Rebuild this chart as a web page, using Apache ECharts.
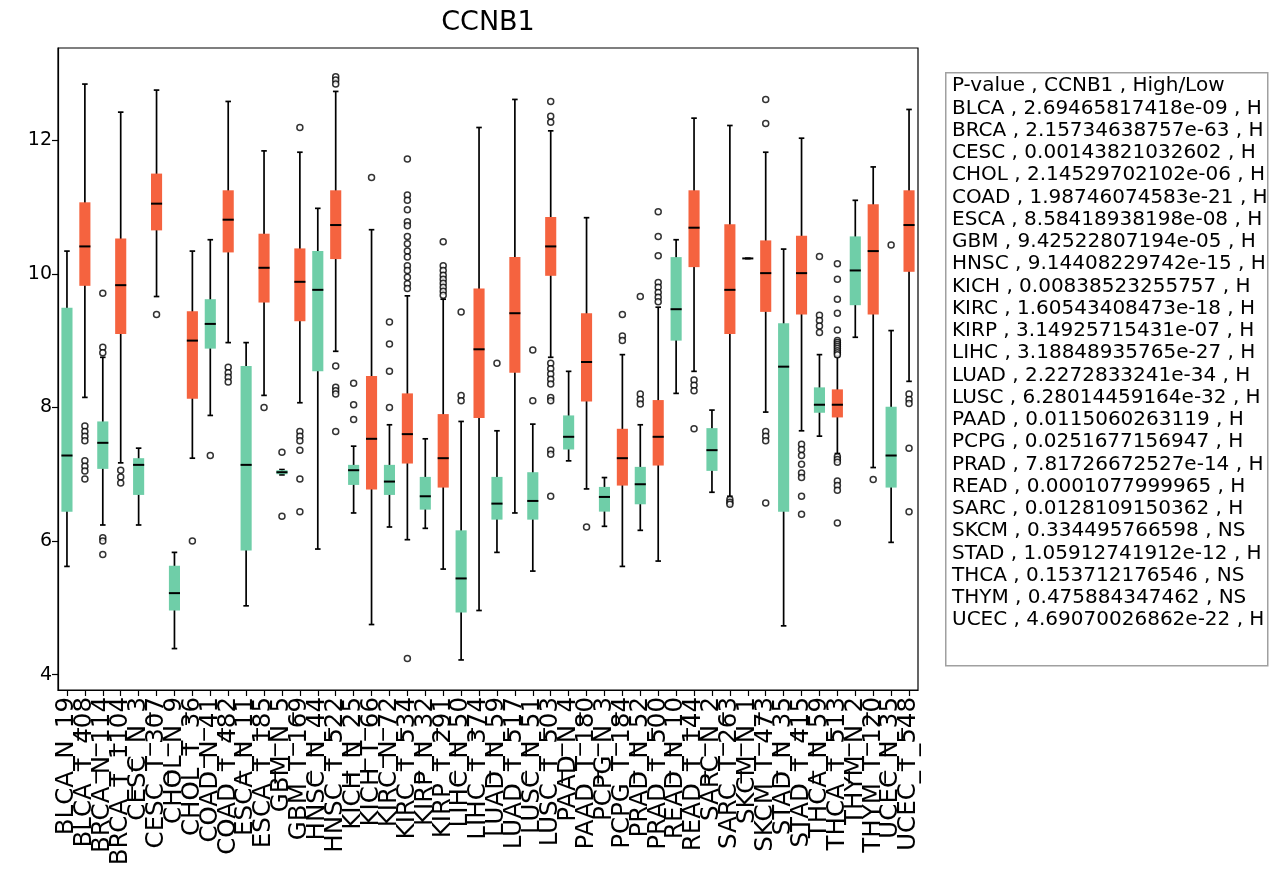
<!DOCTYPE html>
<html>
<head>
<meta charset="utf-8">
<script src="https://cdn.jsdelivr.net/npm/echarts@6/dist/echarts.min.js"></script>
<style>
html,body{margin:0;padding:0;background:#fff;}
#chart{width:1271px;height:871px;}
</style>
</head>
<body>
<div id="chart"></div>
<script>
const categories = ['BLCA_N_19','BLCA_T_408','BRCA_N_114','BRCA_T_1104','CESC_N_3','CESC_T_307','CHOL_N_9','CHOL_T_36','COAD_N_41','COAD_T_482','ESCA_N_11','ESCA_T_185','GBM_N_5','GBM_T_169','HNSC_N_44','HNSC_T_522','KICH_N_25','KICH_T_66','KIRC_N_72','KIRC_T_534','KIRP_N_32','KIRP_T_291','LIHC_N_50','LIHC_T_374','LUAD_N_59','LUAD_T_517','LUSC_N_51','LUSC_T_503','PAAD_N_4','PAAD_T_180','PCPG_N_3','PCPG_T_184','PRAD_N_52','PRAD_T_500','READ_N_10','READ_T_144','SARC_N_2','SARC_T_263','SKCM_N_1','SKCM_T_473','STAD_N_35','STAD_T_415','THCA_N_59','THCA_T_513','THYM_N_2','THYM_T_120','UCEC_N_35','UCEC_T_548'];

const lowerWhisker = [5.62, 8.15, 6.24, 7.17, 6.24, 9.66, 4.39, 7.24, 7.88, 8.97, 5.03, 8.18, 6.99, 8.07, 5.88, 8.84, 6.42, 4.75, 6.21, 6.02, 6.19, 5.58, 4.22, 4.96, 5.83, 6.42, 5.55, 8.75, 7.2, 6.78, 6.22, 5.62, 6.16, 5.7, 8.21, 8.54, 6.73, 6.67, 10.23, 7.93, 4.73, 7.65, 7.57, 7.31, 9.05, 7.1, 5.98, 8.39];
const lowerQuartile = [6.44, 9.82, 7.08, 9.1, 6.69, 10.65, 4.96, 8.13, 8.88, 10.32, 5.86, 9.57, 7.0, 9.29, 8.54, 10.22, 6.84, 6.77, 6.69, 7.16, 6.47, 6.8, 4.93, 7.84, 6.32, 8.52, 6.32, 9.97, 7.37, 8.09, 6.44, 6.83, 6.55, 7.13, 9.0, 10.1, 7.05, 9.1, 10.23, 9.43, 6.44, 9.39, 7.92, 7.85, 9.53, 9.39, 6.8, 10.03];
const medians = [7.28, 10.41, 7.47, 9.83, 7.14, 11.05, 5.22, 9.0, 9.25, 10.81, 7.14, 10.09, 7.03, 9.88, 9.76, 10.73, 7.06, 7.53, 6.89, 7.6, 6.67, 7.24, 5.44, 8.87, 6.56, 9.41, 6.6, 10.41, 7.56, 8.68, 6.66, 7.24, 6.85, 7.56, 9.47, 10.69, 7.36, 9.76, 10.23, 10.01, 8.61, 10.01, 8.04, 8.04, 10.05, 10.34, 7.28, 10.73];
const upperQuartile = [9.49, 11.07, 7.79, 10.53, 7.24, 11.5, 5.63, 9.44, 9.62, 11.25, 8.62, 10.6, 7.06, 10.38, 10.34, 11.25, 7.14, 8.47, 7.14, 8.21, 6.96, 7.9, 6.16, 9.78, 6.96, 10.25, 7.03, 10.85, 7.88, 9.41, 6.81, 7.68, 7.11, 8.11, 10.25, 11.25, 7.69, 10.74, 10.23, 10.5, 9.26, 10.57, 8.3, 8.27, 10.56, 11.04, 8.01, 11.25];
const upperWhisker = [10.34, 12.84, 8.75, 12.42, 7.39, 12.75, 5.83, 10.34, 10.51, 12.58, 8.97, 11.84, 7.07, 11.82, 10.98, 12.73, 7.42, 10.66, 7.74, 9.67, 7.53, 9.62, 7.79, 12.19, 7.65, 12.61, 7.75, 12.14, 8.54, 10.84, 6.95, 8.79, 7.74, 9.5, 10.51, 12.33, 7.96, 12.22, 10.23, 11.82, 10.37, 12.03, 8.79, 8.76, 11.1, 11.6, 9.15, 12.46];

const outliers = [
  [],
  [7.72, 7.64, 7.57, 7.5, 7.2, 7.12, 7.05, 6.93],
  [9.71, 8.9, 8.82, 6.05, 6.0, 5.8],
  [7.06, 6.96, 6.87],
  [],
  [9.39],
  [],
  [6.0],
  [7.28],
  [8.6, 8.52, 8.45, 8.38],
  [],
  [8.0],
  [7.33, 6.37],
  [12.19, 7.64, 7.57, 7.5, 7.36, 6.93, 6.44],
  [],
  [12.95, 12.9, 12.84, 8.62, 8.3, 8.25, 8.2, 7.64],
  [8.36, 8.04, 7.82],
  [11.44],
  [9.28, 8.95, 8.54, 8.0],
  [11.72, 11.18, 11.1, 10.96, 10.78, 10.72, 10.56, 10.45, 10.34, 10.25, 10.12, 10.05, 9.95, 9.85, 9.78, 4.24],
  [],
  [10.48, 10.12, 10.05, 9.98, 9.92, 9.86, 9.8, 9.74, 9.68],
  [9.43, 8.18, 8.1],
  [],
  [8.66],
  [],
  [8.86, 8.1],
  [12.58, 12.36, 12.27, 8.66, 8.58, 8.5, 8.42, 8.35, 8.15, 8.1, 7.36, 7.3, 6.67],
  [],
  [6.21],
  [],
  [9.39, 9.07, 9.0],
  [9.66, 8.2, 8.12, 8.05],
  [10.93, 10.56, 10.27, 9.87, 9.8, 9.72, 9.65, 9.58],
  [],
  [8.41, 8.33, 8.25, 7.68],
  [],
  [6.62, 6.58, 6.55],
  [],
  [12.61, 12.25, 7.64, 7.57, 7.5, 6.57],
  [],
  [7.45, 7.37, 7.28, 7.15, 7.02, 6.95, 6.67, 6.4],
  [10.26, 9.38, 9.3, 9.22, 9.12],
  [10.15, 9.92, 9.62, 9.41, 9.16, 9.0, 8.97, 8.94, 8.91, 8.88, 8.85, 8.82, 8.79, 7.26, 7.22, 7.18, 6.9, 6.83, 6.76, 6.27],
  [],
  [6.92],
  [10.43],
  [8.2, 8.12, 8.06, 7.39, 6.44]
];

const yTickValues = [4, 6, 8, 10, 12];

const legendHeader = 'P-value , CCNB1 , High/Low';
const legendCancers = ['BLCA','BRCA','CESC','CHOL','COAD','ESCA','GBM','HNSC','KICH','KIRC','KIRP','LIHC','LUAD','LUSC','PAAD','PCPG','PRAD','READ','SARC','SKCM','STAD','THCA','THYM','UCEC'];
const legendPValues = ['2.69465817418e-09','2.15734638757e-63','0.00143821032602','2.14529702102e-06','1.98746074583e-21','8.58418938198e-08','9.42522807194e-05','9.14408229742e-15','0.00838523255757','1.60543408473e-18','3.14925715431e-07','3.18848935765e-27','2.2272833241e-34','6.28014459164e-32','0.0115060263119','0.0251677156947','7.81726672527e-14','0.0001077999965','0.0128109150362','0.334495766598','1.05912741912e-12','0.153712176546','0.475884347462','4.69070026862e-22'];
const legendCalls = ['H','H','H','H','H','H','H','H','H','H','H','H','H','H','H','H','H','H','H','NS','H','NS','NS','H'];

const GREEN = '#6fcea8';
const ORANGE = '#f5633f';
const FONT = 'DejaVu Sans';

const boxData = categories.map((c, i) => [i, lowerWhisker[i], lowerQuartile[i], medians[i], upperQuartile[i], upperWhisker[i]]);
const outlierData = [];
outliers.forEach((arr, i) => arr.forEach(v => outlierData.push([i, v])));

const legendText = [legendHeader].concat(legendCancers.map((c, i) => c + ' , ' + legendPValues[i] + ' , ' + legendCalls[i])).join('\n');

const chart = echarts.init(document.getElementById('chart'));
chart.setOption({
  animation: false,
  backgroundColor: '#fff',
  textStyle: { fontFamily: FONT },
  grid: { left: 58, right: 353, top: 48, bottom: 181, show: true, borderColor: '#000', borderWidth: 1.2, backgroundColor: 'transparent' },
  xAxis: {
    type: 'category',
    data: categories,
    boundaryGap: true,
    axisLine: { show: true, lineStyle: { color: '#000', width: 1.2 } },
    axisTick: { show: true, alignWithLabel: true, length: 6, lineStyle: { color: '#000', width: 1.2 } },
    axisLabel: { interval: 0, rotate: 90, color: '#000', fontSize: 24.5, fontFamily: FONT, margin: 7 },
    splitLine: { show: false }
  },
  yAxis: {
    type: 'value',
    min: 3.77,
    max: 13.38,
    axisLine: { show: true, lineStyle: { color: '#000', width: 1.2 } },
    axisTick: { show: true, length: 6, lineStyle: { color: '#000', width: 1.2 }, customValues: yTickValues },
    axisLabel: { color: '#000', fontSize: 19, fontFamily: FONT, margin: 6, customValues: yTickValues },
    splitLine: { show: false }
  },
  graphic: [
    { type: 'text', x: 488, y: 23, style: { text: 'CCNB1', font: '27px "DejaVu Sans"', fill: '#000', align: 'center', verticalAlign: 'middle' } },
    { type: 'rect', left: 945, top: 72, shape: { width: 322, height: 593 }, style: { fill: '#fff', stroke: '#a0a0a0', lineWidth: 1.5 } },
    { type: 'text', left: 952, top: 75, style: { text: legendText, font: '20px "DejaVu Sans"', fill: '#000', lineHeight: 22.25 } }
  ],
  series: [
    {
      type: 'custom',
      data: boxData,
      encode: { x: 0, y: [1, 2, 3, 4, 5] },
      renderItem: function (params, api) {
        const idx = api.value(0);
        const band = api.size([1, 0])[0];
        const boxW = band * 0.62;
        const capW = boxW * 0.5;
        const pLw = api.coord([idx, api.value(1)]);
        const pQ1 = api.coord([idx, api.value(2)]);
        const pMed = api.coord([idx, api.value(3)]);
        const pQ3 = api.coord([idx, api.value(4)]);
        const pUw = api.coord([idx, api.value(5)]);
        const cx = pLw[0];
        const color = categories[idx].indexOf('_N_') >= 0 ? GREEN : ORANGE;
        const lineStyle = { stroke: '#000', lineWidth: 1.7 };
        return {
          type: 'group',
          children: [
            { type: 'line', shape: { x1: cx, y1: pLw[1], x2: cx, y2: pUw[1] }, style: lineStyle },
            { type: 'line', shape: { x1: cx - capW / 2, y1: pLw[1], x2: cx + capW / 2, y2: pLw[1] }, style: lineStyle },
            { type: 'line', shape: { x1: cx - capW / 2, y1: pUw[1], x2: cx + capW / 2, y2: pUw[1] }, style: lineStyle },
            { type: 'rect', shape: { x: cx - boxW / 2, y: pQ3[1], width: boxW, height: Math.max(pQ1[1] - pQ3[1], 0) }, style: { fill: color } },
            { type: 'line', shape: { x1: cx - boxW / 2, y1: pMed[1], x2: cx + boxW / 2, y2: pMed[1] }, style: { stroke: '#000', lineWidth: 2 } }
          ]
        };
      },
      z: 2
    },
    {
      type: 'scatter',
      data: outlierData,
      symbol: 'circle',
      symbolSize: 6,
      itemStyle: { color: '#fff', borderColor: '#000', borderWidth: 1.5 },
      z: 3
    }
  ]
});
</script>
</body>
</html>
